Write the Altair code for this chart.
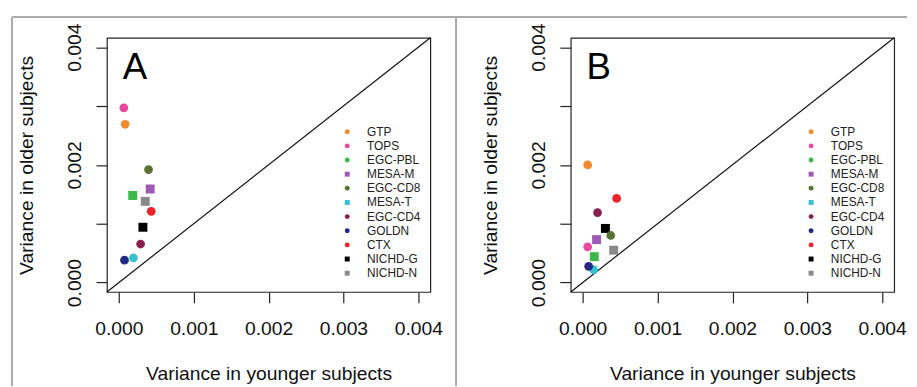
import altair as alt
import pandas as pd

studies = ["GTP", "TOPS", "EGC-PBL", "MESA-M", "EGC-CD8", "MESA-T",
           "EGC-CD4", "GOLDN", "CTX", "NICHD-G", "NICHD-N"]
colors = ["#F38A2B", "#E84A9E", "#3CB84A", "#9E5BB5", "#5B7332", "#36C1D0",
          "#8A1F50", "#232A84", "#EE2229", "#000000", "#8A8A8A"]
legend_shapes = ["circle", "circle", "circle", "square", "circle", "square",
                 "circle", "circle", "circle", "square", "square"]
plot_markers = ["circle", "circle", "square", "square", "circle", "circle",
                "circle", "circle", "circle", "square", "square"]

young_A = [0.000084, 0.000066, 0.000185, 0.000418, 0.000396, 0.000194,
           0.000290, 0.000075, 0.000432, 0.000321, 0.000352]
old_A = [0.00269, 0.00297, 0.00148, 0.00159, 0.00192, 0.00042,
         0.000655, 0.00038, 0.00121, 0.00094, 0.00138]
young_B = [0.000066, 0.000066, 0.000154, 0.000185, 0.000374, 0.000145,
           0.000198, 0.000079, 0.000453, 0.000303, 0.000413]
old_B = [0.00200, 0.000605, 0.00044, 0.00073, 0.00080, 0.000218,
         0.00119, 0.000274, 0.00143, 0.00092, 0.00055]

axis_limits = [-0.00016, 0.00416]
tick_values = [0.000, 0.001, 0.002, 0.003, 0.004]
x_title = "Variance in younger subjects"
y_title = "Variance in older subjects"

FONT = "Liberation Sans"
W, H = 327, 257


def panel(letter, young, old, frame_left, top_x2, legend_x):
    df = pd.DataFrame({"study": studies, "young": young, "old": old,
                       "marker": plot_markers})
    xs = alt.Scale(domain=axis_limits, nice=False, zero=False)
    ys = alt.Scale(domain=axis_limits, nice=False, zero=False)
    x_axis = alt.Axis(values=tick_values, format=".3f", domain=False, grid=False,
                      tickSize=11, tickColor="#222", tickWidth=1.2,
                      labelFontSize=19.5, labelFont=FONT, labelPadding=17,
                      labelFlush=False, labelOverlap=False, labelColor="#111",
                      title=x_title, titleFontSize=19.5, titleFont=FONT,
                      titleFontWeight="normal", titleColor="#111", titlePadding=27)
    y_axis = alt.Axis(values=tick_values, format=".3f", domain=False, grid=False,
                      tickSize=11, tickColor="#222", tickWidth=1.2,
                      labelExpr="(datum.label == '0.001' || datum.label == '0.003') ? '' : datum.label",
                      labelAngle=270, labelAlign="center", labelBaseline="alphabetic",
                      labelFontSize=19.5, labelFont=FONT, labelPadding=16,
                      labelFlush=False, labelOverlap=False, labelColor="#111",
                      title=y_title, titleFontSize=19.5, titleFont=FONT,
                      titleFontWeight="normal", titleColor="#111", titlePadding=28)
    x_enc = alt.X("young:Q", scale=xs, axis=x_axis)
    y_enc = alt.Y("old:Q", scale=ys, axis=y_axis)
    leg = alt.Legend(title=None, orient="none", legendX=legend_x, legendY=89,
                     symbolSize=25, symbolStrokeWidth=0, labelFontSize=12,
                     labelFont=FONT, labelColor="#222", labelOffset=14,
                     rowPadding=2.3, padding=0)
    color = alt.Color("study:N", scale=alt.Scale(domain=studies, range=colors),
                      sort=studies, legend=leg)
    shape = alt.Shape("study:N", scale=alt.Scale(domain=studies, range=legend_shapes),
                      sort=studies, legend=leg)

    base = alt.Chart(df)
    hidden = base.mark_point(filled=True, size=8, opacity=1, strokeWidth=0).encode(
        x=x_enc, y=y_enc, color=color, shape=shape)
    squares = base.transform_filter(alt.datum.marker == "square").mark_square(
        size=82, opacity=1).encode(x=x_enc, y=y_enc, color=color)
    circles = base.transform_filter(alt.datum.marker == "circle").mark_circle(
        size=78, opacity=1).encode(x=x_enc, y=y_enc, color=color)

    diag_df = pd.DataFrame({"young": [axis_limits[0]], "old": [axis_limits[0]],
                            "young2": [axis_limits[1]], "old2": [axis_limits[1]]})
    diag = alt.Chart(diag_df).mark_rule(color="#111", strokeWidth=1.2).encode(
        x=x_enc, y=y_enc, x2="young2:Q", y2="old2:Q")

    one = pd.DataFrame({"label": [letter]})
    text = alt.Chart(one).mark_text(fontSize=37, font=FONT, align="left",
                                    baseline="alphabetic", color="#000").encode(
        text="label:N", x=alt.value(16), y=alt.value(42))
    frame_v = alt.Chart(one).mark_rule(color="#ababab", strokeWidth=2).encode(
        x=alt.value(frame_left), y=alt.value(-21), y2=alt.value(352))
    frame_h = alt.Chart(one).mark_rule(color="#ababab", strokeWidth=2).encode(
        x=alt.value(frame_left), x2=alt.value(top_x2), y=alt.value(-21))

    return alt.layer(frame_v, frame_h, diag, hidden, squares, circles, text).properties(
        width=W, height=H)


pA = panel("A", young_A, old_A, -96, 354, 237)
pB = panel("B", young_B, old_B, -116, 340, 237)

chart = alt.hconcat(pA, pB, spacing=142, bounds="flush").resolve_scale(
    color="independent", shape="independent").properties(
    padding={"left": 2, "top": 5, "right": 0, "bottom": 0}
).configure_view(stroke="#222", strokeWidth=1.2)

chart.save("out.html", embed_options={"renderer": "svg", "actions": False})
